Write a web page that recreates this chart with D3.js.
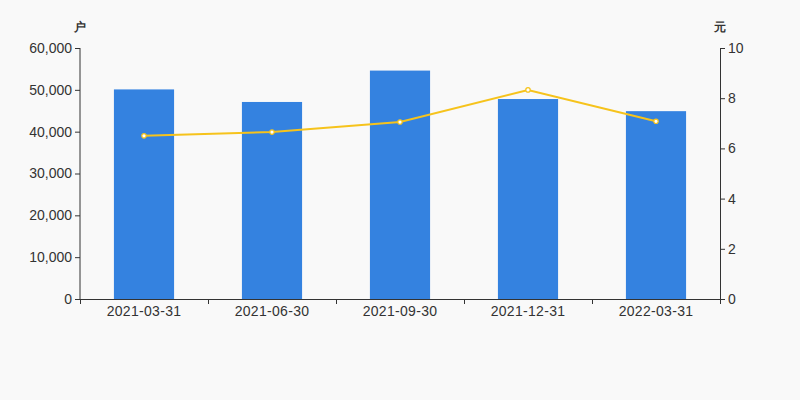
<!DOCTYPE html>
<html><head><meta charset="utf-8">
<script src="https://cdn.jsdelivr.net/npm/d3@7/dist/d3.min.js"></script>
<style>html,body{margin:0;padding:0;background:#f9f9f9;}svg{display:block;font-family:"Liberation Sans",Arial,sans-serif;}</style>
</head><body><svg id="c" width="800" height="400"></svg>
<script>
const categories = ["2021-03-31","2021-06-30","2021-09-30","2021-12-31","2022-03-31"];
const holders = [50100, 47100, 54600, 47800, 44900];
const avgPrice = [6.50, 6.65, 7.05, 8.33, 7.08];
const leftTicks = [0,10000,20000,30000,40000,50000,60000];
const rightTicks = [0,2,4,6,8,10];
const leftUnit = "户", rightUnit = "元";

const svg = d3.select("#c");
const m = {l:80, r:720, t:48, b:299};
const x = d3.scaleBand().domain(categories).range([m.l, m.r]).paddingInner(0.53).paddingOuter(0.265);
const xb = d3.scaleBand().domain(categories).range([m.l, m.r]);
const yL = d3.scaleLinear().domain([0,60000]).range([m.b, m.t]);
const yR = d3.scaleLinear().domain([0,10]).range([m.b, m.t]);
const txt = "#333";

svg.append("g").selectAll("rect").data(categories).join("rect")
  .attr("x", d=>x(d)).attr("width", x.bandwidth())
  .attr("y", (d,i)=>yL(holders[i])).attr("height", (d,i)=>m.b - yL(holders[i]))
  .attr("fill", "#3482e0");

const gl = svg.append("g").attr("transform",`translate(${m.l},0)`)
  .call(d3.axisLeft(yL).tickValues(leftTicks).tickSize(5).tickPadding(3).tickFormat(d3.format(",")));
const gr = svg.append("g").attr("transform",`translate(${m.r},0)`)
  .call(d3.axisRight(yR).tickValues(rightTicks).tickSize(5).tickPadding(3));
const gx = svg.append("g").attr("transform",`translate(0,${m.b})`)
  .call(d3.axisBottom(xb).tickSize(0).tickPadding(7));
gx.selectAll(".tick text").attr("dy","0.71em");
const bounds = categories.map(d=>xb(d)).concat([m.r]);
gx.selectAll(".bt").data(bounds).join("line").attr("class","bt")
  .attr("x1",d=>d+0.5).attr("x2",d=>d+0.5).attr("y1",0).attr("y2",5).attr("stroke",txt);

[gl,gr,gx].forEach(g=>{
  g.selectAll(".domain").attr("stroke",txt).attr("d", null);
  g.selectAll("text").attr("fill",txt).attr("font-size",14).attr("font-family","Liberation Sans, Arial, sans-serif");
  g.selectAll(".tick line").attr("stroke",txt);
});
gx.selectAll(".tick text").attr("letter-spacing","0.3px");
gl.select(".domain").attr("d",`M-0.5,${m.t}V${m.b+0.5}`).attr("transform","translate(0.5,0)");
gr.select(".domain").attr("d",`M0.5,${m.t}V${m.b+0.5}`);
gx.select(".domain").attr("d",`M${m.l},0.5H${m.r}`);

svg.append("text").attr("x",m.l).attr("y",31).attr("text-anchor","middle").attr("fill",txt)
  .attr("font-size",12).attr("font-weight","bold").text(leftUnit);
svg.append("text").attr("x",m.r).attr("y",31).attr("text-anchor","middle").attr("fill",txt)
  .attr("font-size",12).attr("font-weight","bold").text(rightUnit);

const line = d3.line().x((d,i)=>xb(categories[i])+xb.bandwidth()/2).y(d=>yR(d));
svg.append("path").datum(avgPrice).attr("d",line).attr("fill","none").attr("stroke","#f6c31c").attr("stroke-width",2);
svg.append("g").selectAll("circle").data(avgPrice).join("circle")
  .attr("cx",(d,i)=>xb(categories[i])+xb.bandwidth()/2).attr("cy",d=>yR(d)).attr("r",2.2)
  .attr("fill","#fff").attr("stroke","#f6c31c").attr("stroke-width",1.2);
</script></body></html>
